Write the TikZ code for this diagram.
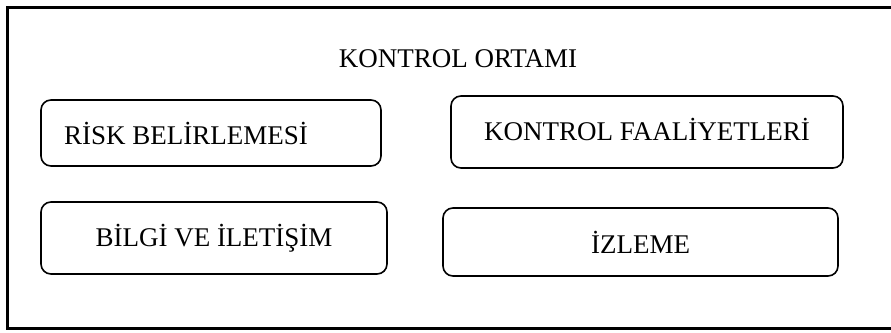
\documentclass[tikz,border=0pt]{standalone}
\usepackage{fontspec}
\setmainfont{Liberation Serif}
\begin{document}
\begin{tikzpicture}[x=1pt,y=-1pt,
  box/.style={draw, line width=1.6pt, rounded corners=10pt, inner sep=0pt, align=center, font=\fontsize{27}{30}\selectfont},
  ttl/.style={inner sep=0pt, font=\fontsize{27}{30}\selectfont}]
\useasboundingbox (0,0) rectangle (891,332);
\draw[line width=3pt] (891,7.5) -- (7.5,7.5) -- (7.5,328.5) -- (891,328.5);
\node[ttl, anchor=base] (title) at (458,67) {KONTROL ORTAMI};
\node[box, minimum width=340pt, minimum height=66pt] (risk) at (211,133) {};
\node[ttl] (riskt) at (186,133) {RİSK BELİRLEMESİ};
\node[box, minimum width=392pt, minimum height=72pt] (kf) at (647,132) {};
\node[ttl] (kft) at (647,129) {KONTROL FAALİYETLERİ};
\node[box, minimum width=346pt, minimum height=72pt] (bilgi) at (214,238) {BİLGİ VE İLETİŞİM};
\node[box, minimum width=395pt, minimum height=68pt] (izl) at (640.5,242) {İZLEME};
\end{tikzpicture}
\end{document}
